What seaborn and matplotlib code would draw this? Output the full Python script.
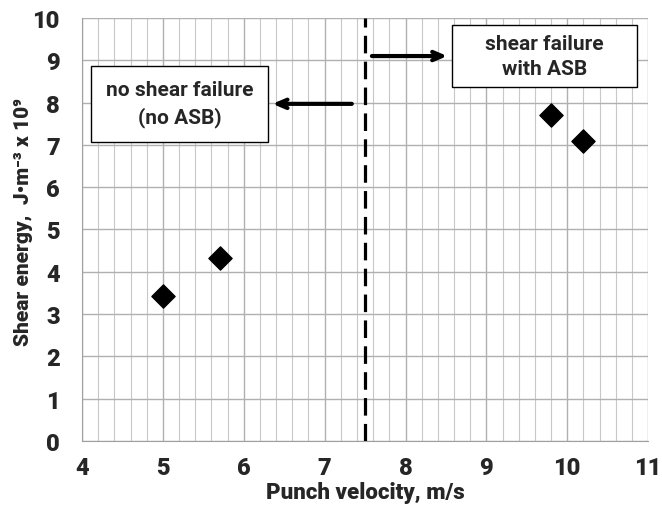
import pandas as pd
import seaborn as sns
import matplotlib.pyplot as plt
from matplotlib.patches import Rectangle
from matplotlib.ticker import MultipleLocator

# data
velocity = [5.0, 5.7, 9.8, 10.2]
energy = [3.43, 4.33, 7.70, 7.08]
x_ticks = [4, 5, 6, 7, 8, 9, 10, 11]
y_ticks = [0, 1, 2, 3, 4, 5, 6, 7, 8, 9, 10]
threshold = 7.5

df = pd.DataFrame({'velocity': velocity, 'energy': energy})

sns.set_style('white')
plt.rcParams['font.family'] = ['Roboto', 'DejaVu Sans']
plt.rcParams['font.weight'] = 'bold'

fig = plt.figure(figsize=(6.62, 5.06), dpi=100)
ax = fig.add_axes([0.124, 0.1265, 0.855, 0.836])

sns.scatterplot(data=df, x='velocity', y='energy', marker='D', s=140,
                color='black', edgecolor='black', zorder=5, ax=ax)

ax.axvline(threshold, ymin=0, ymax=1, color='black', lw=2.3,
           linestyle=(0, (5.5, 2.6)), zorder=4)

ax.set_xlim(4, 11)
ax.set_ylim(0, 10)
ax.set_xticks(x_ticks)
ax.set_yticks(y_ticks)
ax.xaxis.set_minor_locator(MultipleLocator(0.2))
ax.grid(True, which='major', color='#b0b0b0', lw=1)
ax.grid(True, which='minor', axis='x', color='#c8c8c8', lw=0.8)
ax.set_axisbelow(True)

for side in ['top', 'right']:
    ax.spines[side].set_visible(False)
for side in ['left', 'bottom']:
    ax.spines[side].set_color('#a0a0a0')
ax.tick_params(axis='both', which='major', length=5, color='#a0a0a0',
               labelsize=17)
ax.tick_params(axis='x', which='major', pad=6)
ax.tick_params(axis='y', which='major', pad=11)
ax.tick_params(axis='both', which='minor', length=0)
for lab in ax.get_xticklabels() + ax.get_yticklabels():
    lab.set_fontweight('heavy')

ax.set_xlabel('Punch velocity, m/s', fontsize=16, fontweight='heavy', va='center')
ax.xaxis.set_label_coords(0.5, -0.121)
ax.set_ylabel('Shear energy,  J\u2022m\u207b\u00b3 x 10\u2079', fontsize=15,
              fontweight='heavy', va='center')
ax.yaxis.set_label_coords(-0.103, 0.52)

# label boxes
ax.add_patch(Rectangle((4.11, 7.07), 2.19, 1.8, facecolor='white',
                       edgecolor='black', lw=1, zorder=6))
ax.text(5.205, 7.97, 'no shear failure\n(no ASB)', ha='center', va='center',
        fontsize=15, fontweight='bold', linespacing=1.45, zorder=7)
ax.add_patch(Rectangle((8.57, 8.37), 2.29, 1.46, facecolor='white',
                       edgecolor='black', lw=1, zorder=6))
ax.text(9.715, 9.1, 'shear failure\nwith ASB', ha='center', va='center',
        fontsize=15, fontweight='bold', linespacing=1.45, zorder=7)

arrow = dict(arrowstyle='->,head_length=0.7,head_width=0.3', lw=3, color='black')
ax.annotate('', xy=(6.32, 7.97), xytext=(7.37, 7.97), arrowprops=arrow, zorder=7)
ax.annotate('', xy=(8.55, 9.1), xytext=(7.55, 9.1), arrowprops=arrow, zorder=7)

fig.savefig('out.png', dpi=100)
